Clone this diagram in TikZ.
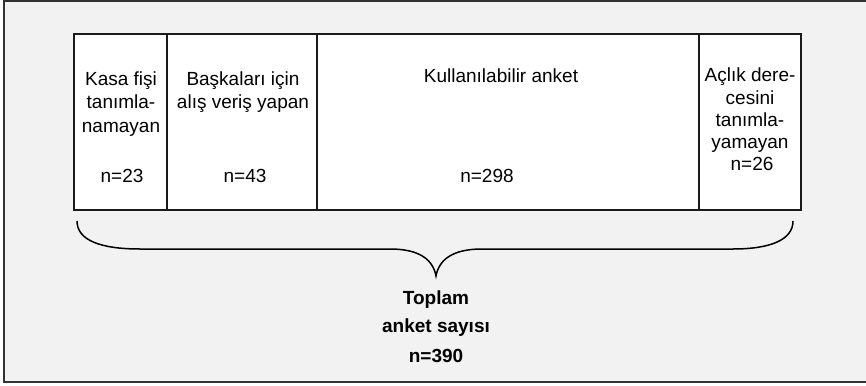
\documentclass[tikz,border=0pt]{standalone}
\usepackage{fontspec}
\setmainfont{Liberation Sans}
\definecolor{panel}{HTML}{F2F2F2}
\definecolor{frameline}{HTML}{333333}
\definecolor{cellline}{HTML}{1A1A1A}
\begin{document}
\begin{tikzpicture}[x=1pt,y=-1pt,
  cell/.style={draw=cellline, line width=1.3pt, fill=white, anchor=north west,
    minimum height=176pt, inner sep=0pt, outer sep=0pt},
  label/.style={anchor=base, inner sep=0pt, font=\fontsize{19}{22}\selectfont},
  total/.style={anchor=base, inner sep=0pt, font=\fontsize{19}{22}\selectfont\bfseries},
  brace/.style={draw=black, line width=1.5pt}]
  % page area and panel
  \useasboundingbox (0,0) rectangle (866,385);
  \begin{scope}
    \clip (0,0) rectangle (866,385);
    \fill[white] (0,0) rectangle (866,385);
    \draw[frameline, line width=2.2pt, fill=panel] (4,1.2) rectangle (880,382);
  \end{scope}

  % table cells
  \node[cell, minimum width=93pt]  (c1) at (74,34)  {};
  \node[cell, minimum width=150pt] (c2) at (167,34) {};
  \node[cell, minimum width=382pt] (c3) at (317,34) {};
  \node[cell, minimum width=102pt] (c4) at (699,34) {};

  % column 1
  \node[label] (a1) at (121,85)  {Kasa fişi};
  \node[label] (a2) at (121,109) {tanımla-};
  \node[label] (a3) at (121,132) {namayan};
  \node[label] (a4) at (122,182) {n=23};
  % column 2
  \node[label] (b1) at (243,85)  {Başkaları için};
  \node[label] (b2) at (243,109) {alış veriş yapan};
  \node[label] (b3) at (245,182) {n=43};
  % column 3
  \node[label] (k1) at (501,83)  {Kullanılabilir anket};
  \node[label] (k2) at (487,182) {n=298};
  % column 4
  \node[label] (d1) at (750,82)  {Açlık dere-};
  \node[label] (d2) at (750,104) {cesini};
  \node[label] (d3) at (750,126) {tanımla-};
  \node[label] (d4) at (750,148) {yamayan};
  \node[label] (d5) at (752,170) {n=26};

  % curly brace under the table
  \coordinate (bl) at (77,221);
  \coordinate (tip) at (436,276);
  \coordinate (br) at (793,221);
  \draw[brace] (bl) .. controls (77,240) and (100,249) .. (140,249)
    -- (390,249) .. controls (420,249) and (433,260) .. (tip)
    .. controls (439,260) and (452,249) .. (482,249)
    -- (733,249) .. controls (770,249) and (793,240) .. (br);

  % total
  \node[total] (t1) at (436,304) {Toplam};
  \node[total] (t2) at (436,332) {anket sayısı};
  \node[total] (t3) at (436,362) {n=390};
\end{tikzpicture}
\end{document}
